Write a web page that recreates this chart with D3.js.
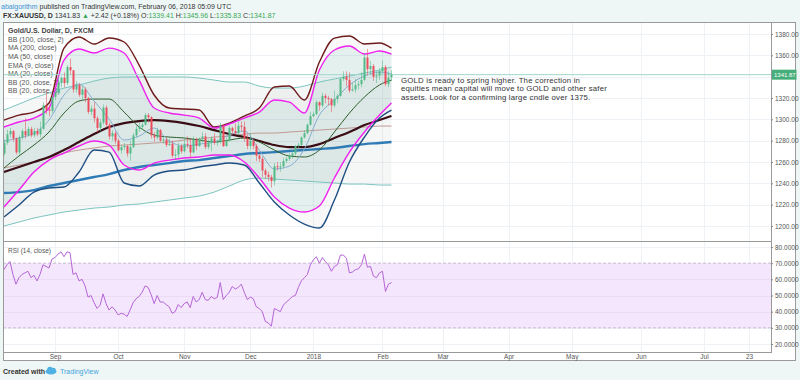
<!DOCTYPE html>
<meta charset="utf-8">
<head>
  <title>XAUUSD daily</title>
</head>
<style>
body { margin: 0; background: #eff7f6; }
text { font-family: "Liberation Sans", Arial, sans-serif; }
.grid line { stroke: #eef2f7; stroke-width: 1px; }
.ind { fill: none; }
.axis text { fill: #555; font-size: 6.5px; }
.axis path { display: none; }
.axis line { stroke: #888; }
</style>
<body>
<script src="https://d3js.org/d3.v7.min.js"></script>
<script>

// bar index 0 = Sep 1 2017, weekdays only
var firstBar = -17;
var opens = [1268,1278,1286,1289,1282,1269,1283,1289,1285,1291,1285,1289,1286,1291,1313,1309,1308,
  1321,1325,1334,1339,1334,1349,1346,1328,1332,1323,
  1328,1320,1307,1310,1301,1292,1297,1311,1295,1284,
  1287,1280,1271,1274,1275,1268,1274,1285,1291,1293,
  1295,1304,1302,1285,1283,1290,1280,1281,1276,1277,
  1266,1267,1275,1270,1277,1276,1269,1281,1275,1282,
  1284,1274,1278,1282,1278,1279,1294,1275,1280,1292,
  1289,1287,1294,1293,1282,1275,1280,1275,1266,1263,
  1252,1248,1246,1242,1256,1255,1256,1261,1263,1266,
  1268,1275,1276,1283,1287,1295,1303,1305,1316,1313,
  1322,1320,1319,1313,1319,1322,1338,1340,1337,1327,
  1328,1332,1333,1337,1358,1347,1350,1340,1341,1345,
  1349,1333,1339.41];
var highs = [1281,1290,1292,1290,1283,1285,1291,1301,1293,1293,1292,1292,1298,1316,1326,1313,1323,
  1326,1340,1340,1344,1351,1357,1346,1336,1334,1331,
  1330,1321,1313,1316,1303,1300,1314,1313,1297,1290,
  1289,1282,1276,1278,1276,1280,1287,1294,1297,1298,
  1306,1306,1303,1288,1292,1291,1284,1283,1282,1280,
  1272,1278,1277,1283,1284,1282,1284,1283,1283,1288,
  1287,1281,1284,1287,1281,1297,1295,1283,1294,1293,
  1296,1298,1298,1298,1286,1287,1281,1277,1268,1265,
  1254,1251,1248,1259,1260,1260,1264,1265,1268,1271,
  1276,1278,1284,1290,1296,1307,1307,1318,1317,1325,
  1324,1322,1320,1327,1324,1339,1345,1345,1344,1334,
  1338,1336,1344,1362,1366,1355,1352,1345,1348,1355,
  1351,1345,1345.96];
var lows = [1266,1276,1283,1279,1267,1266,1281,1282,1284,1283,1283,1284,1283,1290,1305,1303,1306,
  1318,1324,1330,1330,1332,1342,1325,1325,1321,1318,
  1316,1305,1304,1297,1288,1289,1295,1292,1281,1280,
  1277,1270,1268,1271,1265,1261,1273,1283,1288,1290,
  1294,1297,1282,1279,1281,1279,1277,1274,1275,1264,
  1262,1264,1268,1269,1273,1264,1268,1271,1274,1278,
  1272,1272,1270,1276,1275,1277,1274,1274,1279,1286,
  1286,1285,1289,1279,1272,1272,1272,1261,1260,1246,
  1244,1242,1236,1238,1252,1251,1254,1259,1261,1263,
  1266,1273,1275,1282,1286,1294,1302,1304,1308,1311,
  1315,1313,1307,1311,1315,1321,1336,1331,1325,1326,
  1325,1328,1330,1336,1341,1342,1336,1334,1337,1342,
  1331,1330,1335.83];
var closes = [1278,1286,1289,1282,1269,1283,1289,1285,1291,1285,1289,1286,1291,1313,1309,1308,1321,
  1325,1334,1339,1334,1349,1346,1328,1332,1323,1328,
  1320,1307,1310,1301,1292,1297,1311,1295,1284,1287,
  1280,1271,1274,1275,1268,1274,1285,1291,1293,1295,
  1304,1302,1285,1283,1290,1280,1281,1276,1277,1266,
  1267,1275,1270,1277,1276,1269,1281,1275,1282,1284,
  1274,1278,1282,1278,1279,1294,1275,1280,1292,1289,
  1287,1294,1293,1282,1275,1280,1275,1266,1263,1252,
  1248,1246,1242,1256,1255,1256,1261,1263,1266,1268,
  1275,1276,1283,1287,1295,1303,1305,1316,1313,1322,
  1320,1319,1313,1319,1322,1338,1340,1337,1327,1328,
  1332,1333,1337,1358,1347,1350,1340,1341,1345,1349,
  1333,1339,1341.87];
var rsi = [66,69,71,63,57,61,63,64,65,61,62.5,59,63,69,68,67,72.5,
  73.5,75.6,77,74,77,76.5,63,64,59,60,
  56,49,50,45.6,42,44,51,45,41,43,
  41,38,39,38.5,37,41,45.6,48,49.4,52,
  56,55,50.6,45,50,46,46,44.4,43,39,
  40,44.4,42.5,45,46,42.5,49.4,46,47.5,52,
  47.5,47,49.4,48,48.8,58,47.5,50,52,55.6,
  54,55,57,52,47.5,49,48,43,42,40,
  34,33,31,42,41,40,44,46,47.5,49.4,
  50,55,59,61,63,69,72,74,70,73.5,
  71,69,65,68,69,75,75,73,64,64.5,
  66,66.5,69,75.6,67.5,68,62,61,64,65,
  52.5,57,58];

// indicator readings, every 5 bars
var indIdx = [-17,-12,-7,-2,3,8,13,18,23,28,33,38,43,48,53,58,63,68,73,78,83,88,93,98,103,108,112];
var bbOuterUpper = [1299.3,1304.0,1306.8,1315.3,1366.8,1377.2,1370.6,1376.2,1372.5,1350.9,1322.8,1310.6,1309.7,1308.7,1292.8,1296.5,1303.1,1310.6,1330.3,1331.2,1318.1,1353.7,1376.2,1378.1,1370.6,1371.5,1366.8];
var bbOuterLower = [1208.4,1219.7,1231.8,1235.6,1236.5,1250.6,1271.2,1269.3,1240.3,1237.5,1247.8,1251.5,1252.5,1255.3,1257.2,1259.0,1257.2,1240.3,1222.5,1210.3,1201.8,1198.1,1224.3,1260.0,1283.4,1301.2,1308.7];
var bb20Upper = [1292.8,1297.5,1301.2,1310.6,1355.6,1365.9,1362.2,1366.8,1362.2,1336.8,1310.6,1305.9,1304.0,1301.2,1291.8,1295.6,1301.2,1306.8,1318.1,1316.2,1305.9,1346.2,1365.0,1368.7,1361.2,1364.0,1361.2];
var bb20Lower = [1217.8,1233.7,1250.6,1261.8,1268.4,1275.0,1279.7,1275.9,1257.2,1252.5,1259.0,1261.8,1263.7,1264.7,1266.5,1266.5,1260.0,1245.0,1227.2,1216.8,1213.1,1218.7,1245.0,1269.3,1288.1,1304.0,1315.3];
var bb100Upper = [1308.7,1314.3,1320.0,1324.7,1329.3,1332.2,1335.9,1338.7,1339.7,1339.7,1339.7,1339.7,1339.7,1338.7,1336.8,1335.0,1335.0,1331.2,1329.3,1329.3,1331.2,1335.0,1337.8,1340.6,1343.4,1346.2,1349.0];
var bb100Lower = [1200.0,1203.7,1207.5,1210.3,1213.1,1215.0,1216.8,1217.8,1219.7,1220.6,1222.5,1224.3,1226.2,1228.1,1231.8,1237.5,1243.1,1245.0,1244.0,1243.1,1242.2,1241.2,1240.3,1239.3,1239.3,1238.4,1238.4];
var bb100Basis = [1254.3,1257.2,1260.0,1263.7,1268.4,1271.2,1273.1,1275.0,1275.9,1276.8,1277.8,1278.7,1280.6,1281.5,1283.4,1284.3,1286.2,1287.1,1287.1,1288.1,1289.0,1289.9,1290.9,1291.8,1292.8,1293.7,1293.7];
var ma200 = [1230.9,1231.8,1233.7,1237.5,1240.3,1243.1,1245.9,1248.7,1252.5,1255.3,1257.2,1259.0,1260.9,1261.8,1263.7,1265.6,1267.5,1268.4,1269.3,1270.3,1271.2,1272.2,1273.1,1275.0,1276.8,1277.8,1278.7];
var ma50 = [1250.6,1255.3,1260.0,1264.7,1271.2,1278.7,1286.2,1292.8,1296.5,1298.4,1299.3,1298.4,1296.5,1293.7,1289.9,1286.2,1283.4,1279.7,1275.9,1274.0,1274.0,1276.8,1282.5,1288.1,1294.6,1299.3,1303.1];
var ma20 = [1254.3,1265.6,1275.9,1288.1,1305.9,1317.2,1319.0,1319.0,1306.8,1292.8,1285.3,1283.4,1282.5,1280.6,1278.7,1280.6,1282.5,1278.7,1271.2,1265.6,1264.7,1271.2,1288.1,1305.9,1320.9,1332.2,1336.8];
var ema9 = [1279.7,1282.5,1287.1,1299.3,1322.8,1333.1,1317.2,1300.3,1280.6,1284.3,1291.8,1279.7,1275.0,1276.8,1278.7,1285.3,1289.0,1271.2,1253.4,1256.2,1272.2,1304.0,1318.1,1332.2,1340.6,1344.3,1342.5];

var priceTicks = [1200,1220,1240,1260,1280,1300,1320,1340,1360,1380];
var priceLabels = [1200,1220,1240,1260,1280,1300,1320,1360,1380];
var rsiTicks = [20,30,40,50,60,70,80];
var monthIdx = [0,21,43,65,86,109,129,151,172,195,216,231];
var monthLabels = ["Sep","Oct","Nov","Dec","2018","Feb","Mar","Apr","May","Jun","Jul","23"];
var lastPrice = 1341.87;

var legendItems = ["BB (100, close, 2)","MA (200, close)","MA (50, close)","EMA (9, close)",
  "MA (20, close)","BB (20, close, 2)","BB (20, close, 3)"];
var note = ["GOLD is ready to spring higher. The correction in",
  "equities mean capital will move to GOLD and other safer",
  "assets. Look for a confirming large cndle over 1375."];

// frame
var box = {left: 3, plotRight: 771, right: 796, top: 22, split: 241, rsiBottom: 352, bottom: 361};

var x = d3.scaleLinear().domain([0, 231]).range([55, 749]);
var y = d3.scaleLinear().domain([1200, 1380]).range([226, 34]);
var yr = d3.scaleLinear().domain([20, 80]).range([344, 247]);

var svg = d3.select("body").append("svg")
    .attr("width", 800)
    .attr("height", 380);

svg.append("rect")
    .attr("x", box.left).attr("y", box.top)
    .attr("width", box.right - box.left).attr("height", box.bottom - box.top)
    .attr("fill", "#fff");

var defs = svg.append("defs");
defs.append("clipPath").attr("id", "clipMain").append("rect")
    .attr("x", box.left).attr("y", box.top)
    .attr("width", box.plotRight - box.left).attr("height", box.split - box.top);
defs.append("clipPath").attr("id", "clipRsi").append("rect")
    .attr("x", box.left).attr("y", box.split)
    .attr("width", box.plotRight - box.left).attr("height", box.rsiBottom - box.split);

// grid
var grid = svg.append("g").attr("class", "grid");
grid.selectAll(".v").data(monthIdx).enter().append("line")
    .attr("x1", function(d) { return Math.round(x(d)) + 0.5; })
    .attr("x2", function(d) { return Math.round(x(d)) + 0.5; })
    .attr("y1", box.top).attr("y2", box.rsiBottom);
grid.selectAll(".h").data(priceTicks).enter().append("line")
    .attr("x1", box.left).attr("x2", box.plotRight)
    .attr("y1", function(d) { return Math.round(y(d)) + 0.5; })
    .attr("y2", function(d) { return Math.round(y(d)) + 0.5; });
grid.selectAll(".hr").data(rsiTicks).enter().append("line")
    .attr("x1", box.left).attr("x2", box.plotRight)
    .attr("y1", function(d) { return Math.round(yr(d)) + 0.5; })
    .attr("y2", function(d) { return Math.round(yr(d)) + 0.5; });

// legend (drawn under the series)
var legend = svg.append("g").attr("fill", "#555").style("font-size", "7px");
legend.append("text").attr("x", 8).attr("y", 33)
    .attr("font-weight", "bold").attr("fill", "#444")
    .text("Gold/U.S. Dollar, D, FXCM");
legend.selectAll(".li").data(legendItems).enter().append("text")
    .attr("x", 8)
    .attr("y", function(d, k) { return 41.7 + k * 8.6; })
    .text(function(d) { return d; });

var main = svg.append("g").attr("clip-path", "url(#clipMain)");

function pts(vals) { return vals.map(function(v, k) { return [indIdx[k], v]; }); }

var band = function(up, lo) {
  return d3.area()
      .x(function(d, k) { return x(indIdx[k]); })
      .y0(function(d, k) { return y(lo[k]); })
      .y1(function(d, k) { return y(up[k]); })
      .curve(d3.curveMonotoneX)(indIdx);
};
var line = d3.line()
    .x(function(d) { return x(d[0]); })
    .y(function(d) { return y(d[1]); })
    .curve(d3.curveMonotoneX);

main.append("path").attr("d", band(bb100Upper, bb100Lower)).attr("fill", "rgba(110,130,130,0.07)");
main.append("path").attr("d", band(bbOuterUpper, bbOuterLower)).attr("fill", "rgba(120,120,120,0.05)");
main.append("path").attr("d", band(bb20Upper, bb20Lower)).attr("fill", "rgba(38,166,140,0.09)");

var series = [
  {v: bb100Upper, c: "#7cc4c0", w: 1},
  {v: bb100Lower, c: "#7cc4c0", w: 1},
  {v: bb100Basis, c: "#c09a94", w: 1},
  {v: ma200, c: "#2f7bb5", w: 2.4},
  {v: ma50, c: "#3a0d15", w: 2.2},
  {v: ma20, c: "#2f5e2c", w: 1},
  {v: ema9, c: "#86add0", w: 1},
  {v: bbOuterUpper, c: "#6e1a1a", w: 1.4},
  {v: bbOuterLower, c: "#1e4f82", w: 1.4},
  {v: bb20Upper, c: "#f020f0", w: 1.4},
  {v: bb20Lower, c: "#f020f0", w: 1.4}
];
main.selectAll(".ind").data(series).enter().append("path")
    .attr("class", "ind")
    .attr("d", function(s) { return line(pts(s.v)); })
    .attr("stroke", function(s) { return s.c; })
    .attr("stroke-width", function(s) { return s.w; });

// last price line
main.append("line")
    .attr("x1", box.left).attr("x2", box.plotRight)
    .attr("y1", y(lastPrice)).attr("y2", y(lastPrice))
    .attr("stroke", "#9fd6cc").attr("stroke-width", 1);

// candles
var candles = closes.map(function(c, k) {
  return {i: firstBar + k, o: opens[k], h: highs[k], l: lows[k], c: c};
});
var up = "#53b987", down = "#eb4d5c";
main.selectAll(".wick").data(candles).enter().append("line")
    .attr("x1", function(d) { return Math.round(x(d.i)) + 0.5; })
    .attr("x2", function(d) { return Math.round(x(d.i)) + 0.5; })
    .attr("y1", function(d) { return y(d.h); })
    .attr("y2", function(d) { return y(d.l); })
    .attr("stroke", function(d) { return d.c >= d.o ? up : down; })
    .attr("stroke-opacity", 0.55);
main.selectAll(".body").data(candles).enter().append("rect")
    .attr("x", function(d) { return Math.round(x(d.i)) - 0.5; })
    .attr("width", 2)
    .attr("y", function(d) { return y(Math.max(d.o, d.c)); })
    .attr("height", function(d) { return Math.max(1, Math.abs(y(d.o) - y(d.c))); })
    .attr("fill", function(d) { return d.c >= d.o ? up : down; });

// annotation
svg.append("g").attr("fill", "#333").style("font-size", "7.8px").style("letter-spacing", "0.2px")
  .selectAll("text").data(note).enter().append("text")
    .attr("x", 401)
    .attr("y", function(d, k) { return 83 + k * 8.3; })
    .text(function(d) { return d; });

// RSI pane
var rsiG = svg.append("g").attr("clip-path", "url(#clipRsi)");
rsiG.append("rect")
    .attr("x", box.left).attr("width", box.plotRight - box.left)
    .attr("y", yr(70)).attr("height", yr(30) - yr(70))
    .attr("fill", "#f4e6fc");
rsiG.selectAll(".lvl").data([70, 30]).enter().append("line")
    .attr("x1", box.left).attr("x2", box.plotRight)
    .attr("y1", function(d) { return yr(d); }).attr("y2", function(d) { return yr(d); })
    .attr("stroke", "#c9bccf").attr("stroke-dasharray", "3,2");
rsiG.selectAll(".rg").data([40, 50, 60]).enter().append("line")
    .attr("x1", box.left).attr("x2", box.plotRight)
    .attr("y1", function(d) { return Math.round(yr(d)) + 0.5; })
    .attr("y2", function(d) { return Math.round(yr(d)) + 0.5; })
    .attr("stroke", "#ecdcf3");
rsiG.append("path")
    .datum(rsi)
    .attr("fill", "none")
    .attr("stroke", "#b565d6")
    .attr("stroke-width", 1)
    .attr("d", d3.line()
        .x(function(d, k) { return x(firstBar + k); })
        .y(function(d) { return yr(d); }));
svg.append("text").attr("x", 8).attr("y", 253)
    .attr("fill", "#555").style("font-size", "6.5px")
    .text("RSI (14, close)");

// frame lines
var frame = svg.append("g").attr("stroke", "#9a9a9a").attr("fill", "none");
frame.append("rect")
    .attr("x", box.left + 0.5).attr("y", box.top + 0.5)
    .attr("width", box.right - box.left - 1).attr("height", box.bottom - box.top - 1);
frame.append("line").attr("x1", box.plotRight + 0.5).attr("x2", box.plotRight + 0.5)
    .attr("y1", box.top).attr("y2", box.rsiBottom);
frame.append("line").attr("x1", box.left).attr("x2", box.plotRight)
    .attr("y1", box.split + 0.5).attr("y2", box.split + 0.5);
frame.append("line").attr("x1", box.left).attr("x2", box.plotRight + 1)
    .attr("y1", box.rsiBottom + 0.5).attr("y2", box.rsiBottom + 0.5);

// axes
svg.append("g")
    .attr("class", "axis")
    .attr("transform", "translate(" + box.plotRight + ",0)")
    .call(d3.axisRight(y).tickValues(priceLabels).tickSize(2).tickPadding(2).tickFormat(d3.format(".2f")));
svg.append("g")
    .attr("class", "axis")
    .attr("transform", "translate(" + box.plotRight + ",0)")
    .call(d3.axisRight(yr).tickValues(rsiTicks).tickSize(2).tickPadding(2).tickFormat(d3.format(".4f")));
svg.append("g")
    .attr("class", "axis")
    .attr("transform", "translate(0," + box.rsiBottom + ")")
    .call(d3.axisBottom(x).tickValues(monthIdx).tickSize(0).tickPadding(2)
        .tickFormat(function(d, k) { return monthLabels[k]; }));

// last price tag
svg.append("rect")
    .attr("x", box.plotRight + 1).attr("y", y(lastPrice) - 5)
    .attr("width", 24.5).attr("height", 10)
    .attr("fill", "#45ae7a");
svg.append("text")
    .attr("x", box.plotRight + 3).attr("y", y(lastPrice) + 2.2)
    .attr("fill", "#fff").style("font-size", "6px")
    .text(d3.format(".2f")(lastPrice));

// header
var h1 = svg.append("text").attr("x", 1).attr("y", 8.5).style("font-size", "7px");
h1.append("tspan").attr("fill", "#3a8fd3").text("abalgorithm");
h1.append("tspan").attr("fill", "#333").text(" published on TradingView.com, February 06, 2018 05:09 UTC");

var green = "#3aa757";
var h2 = svg.append("text").attr("x", 3).attr("y", 17.5).style("font-size", "7px").attr("fill", "#333");
h2.append("tspan").attr("font-weight", "bold").text("FX:XAUUSD, D");
h2.append("tspan").text("  1341.83 ");
h2.append("tspan").attr("fill", green).text("\u25B2");
h2.append("tspan").text(" +2.42 (+0.18%) O:");
h2.append("tspan").attr("fill", green).text("1339.41");
h2.append("tspan").text(" H:");
h2.append("tspan").attr("fill", green).text("1345.96");
h2.append("tspan").text(" L:");
h2.append("tspan").attr("fill", green).text("1335.83");
h2.append("tspan").text(" C:");
h2.append("tspan").attr("fill", green).text("1341.87");

// footer
svg.append("text").attr("x", 3).attr("y", 373.5)
    .attr("fill", "#333").attr("font-weight", "bold").style("font-size", "7px")
    .text("Created with");
var logo = svg.append("g").attr("transform", "translate(46,367)").attr("fill", "#4fb0e3");
logo.append("ellipse").attr("cx", 5).attr("cy", 4.5).attr("rx", 5.5).attr("ry", 3);
logo.append("circle").attr("cx", 4).attr("cy", 2.5).attr("r", 2.8);
logo.append("circle").attr("cx", 7.5).attr("cy", 3).attr("r", 2.3);
svg.append("text").attr("x", 60).attr("y", 373.5)
    .attr("fill", "#3fa3dc").style("font-size", "7px")
    .text("TradingView");

</script>
</body>
